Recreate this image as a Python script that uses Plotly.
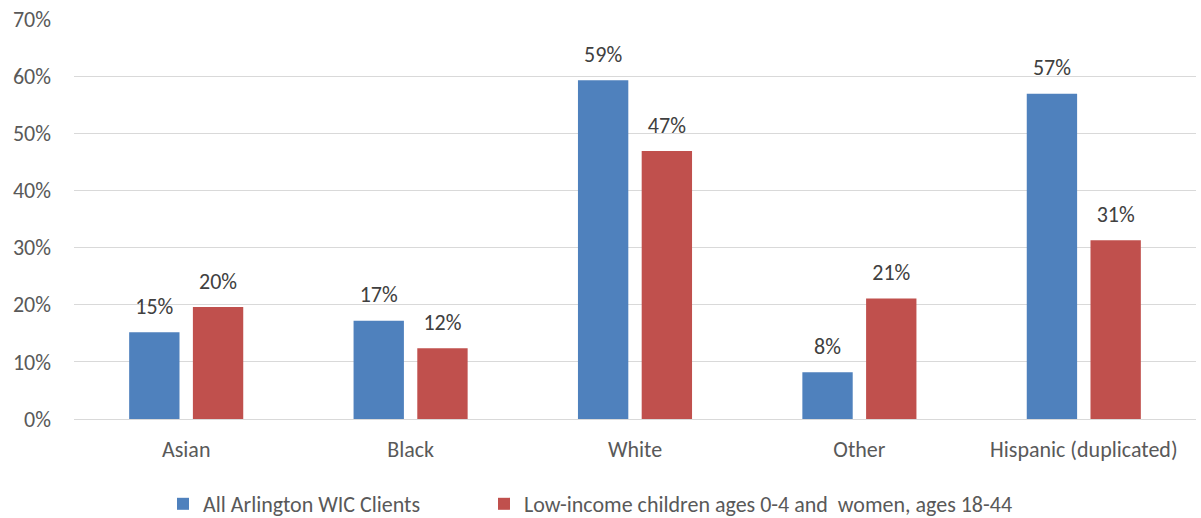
import plotly.graph_objects as go

categories = ["Asian", "Black", "White", "Other", "Hispanic (duplicated)"]
series_names = ["All Arlington WIC Clients", "Low-income children ages 0-4 and  women, ages 18-44"]
all_wic = [0.152, 0.172, 0.593, 0.082, 0.569]
low_income = [0.196, 0.124, 0.469, 0.211, 0.313]
y_ticks = [0, 0.1, 0.2, 0.3, 0.4, 0.5, 0.6, 0.7]

colors = ["#4F81BD", "#C0504D"]
FONT = "Carlito, Calibri, Lato, sans-serif"
FS = 22
BARGAP = 0.432

fig = go.Figure()
legend_ids = ["legend", "legend2"]
for i, (name, vals) in enumerate(zip(series_names, [all_wic, low_income])):
    fig.add_trace(go.Bar(
        x=categories, y=vals, name=name,
        marker=dict(color=colors[i], line=dict(width=0)),
        offsetgroup=str(i), legend=legend_ids[i],
        hoverinfo="skip",
    ))
for i, vals in enumerate([all_wic, low_income]):
    fig.add_trace(go.Scatter(
        x=categories, y=vals, mode="markers+text",
        text=[f"{v*100:.0f}%" for v in vals],
        textposition="top center",
        textfont=dict(family=FONT, size=FS, color="#404040"),
        marker=dict(size=19, color="rgba(0,0,0,0)"),
        offsetgroup=str(i),
        showlegend=False, hoverinfo="skip", cliponaxis=False,
    ))

legend_common = dict(
    orientation="h", xref="container", yref="container",
    xanchor="left", y=14 / 518, yanchor="middle",
    font=dict(family=FONT, size=FS, color="#595959"),
    itemclick=False, itemdoubleclick=False,
)

fig.update_layout(
    width=1201, height=518,
    margin=dict(l=74, r=5, t=19, b=99, autoexpand=False),
    paper_bgcolor="white", plot_bgcolor="white",
    barmode="group", bargap=BARGAP, bargroupgap=0.21,
    scattermode="group", scattergap=BARGAP,
    font=dict(family=FONT, size=FS, color="#595959"),
    showlegend=True,
    legend=dict(x=163 / 1201, **legend_common),
    legend2=dict(x=484 / 1201, **legend_common),
    xaxis=dict(
        type="category", showgrid=False, zeroline=False,
        showline=True, linecolor="#D9D9D9", linewidth=1,
        ticks="", ticklabelstandoff=11,
        tickfont=dict(family=FONT, size=FS, color="#595959"),
    ),
    yaxis=dict(
        range=[0, 0.7], tickvals=y_ticks, tickformat=".0%",
        showgrid=True, gridcolor="#D9D9D9", gridwidth=1,
        zeroline=False, showline=False, ticks="",
        ticklabelstandoff=22,
        tickfont=dict(family=FONT, size=FS, color="#595959"),
    ),
)

fig.write_html("out.html")
